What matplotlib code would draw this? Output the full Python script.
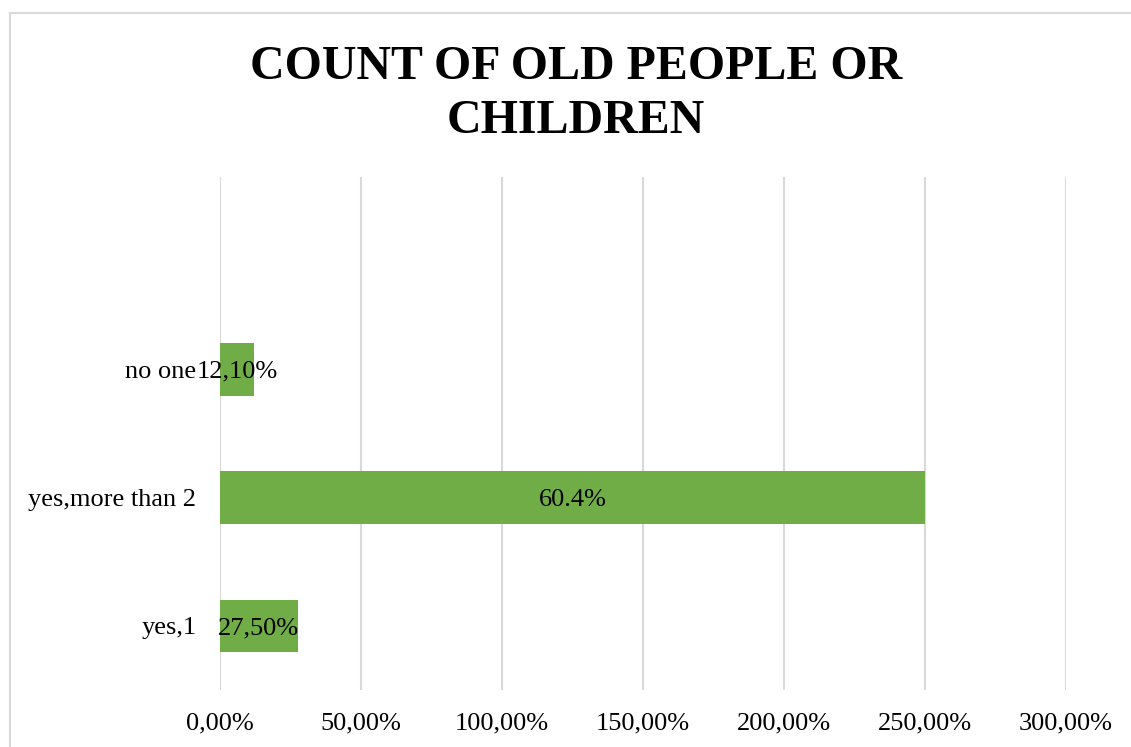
import matplotlib
matplotlib.use("Agg")
import matplotlib.pyplot as plt
from matplotlib.patches import Rectangle
from matplotlib.ticker import FuncFormatter

categories = ["yes,1", "yes,more than 2", "no one"]
values = [27.5, 250.0, 12.1]
value_labels = ["27,50%", "60.4%", "12,10%"]
xticks = [0, 50, 100, 150, 200, 250, 300]

plt.rcParams["font.family"] = ["Liberation Serif", "DejaVu Serif"]

W, H = 1131, 747
fig = plt.figure(figsize=(W / 100, H / 100), dpi=100)

# chart area border (cropped on right and bottom)
fig.patches.append(Rectangle((10 / W, -0.1), 1.2, 1 - 13 / H + 0.1,
                             transform=fig.transFigure, fill=False,
                             edgecolor="#d9d9d9", lw=1.5))

ax = fig.add_axes([220 / W, 1 - 690 / H, (1066 - 220) / W, (690 - 177) / H])
ypos = list(range(len(categories)))
ax.barh(ypos, values, height=0.41, color="#70ad47", zorder=2)
for y, v, lab in zip(ypos, values, value_labels):
    ax.text(v / 2, y - 0.02, lab, ha="center", va="center", fontsize=19, color="black", zorder=3)

ax.set_xlim(0, 300)
ax.set_ylim(-0.5, 3.5)
ax.set_xticks(xticks)
ax.xaxis.set_major_formatter(FuncFormatter(lambda v, p: f"{v:.2f}%".replace(".", ",")))
ax.set_yticks(ypos)
ax.set_yticklabels(categories)
ax.tick_params(axis="both", length=0, labelsize=19)
ax.tick_params(axis="x", pad=16)
ax.tick_params(axis="y", pad=17)
ax.grid(axis="x", color="#d9d9d9", lw=1.5, zorder=0)
for s in ax.spines.values():
    s.set_visible(False)

fig.text(576 / W, 1 - 94 / H, "COUNT OF OLD PEOPLE OR\nCHILDREN", ha="center", va="center",
         fontsize=34.5, fontweight="bold", linespacing=1.3)

fig.savefig("out.png", dpi=100)
